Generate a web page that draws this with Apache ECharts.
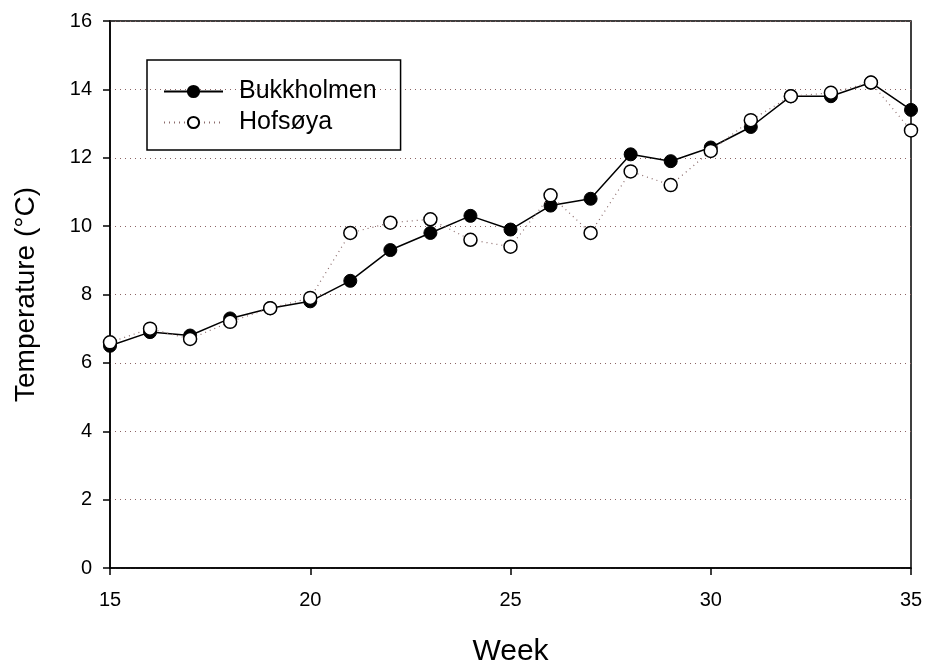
<!DOCTYPE html>
<html>
<head>
<meta charset="utf-8">
<script src="https://cdn.jsdelivr.net/npm/echarts@6/dist/echarts.min.js"></script>
<style>html,body{margin:0;padding:0;background:#fff;}#c{width:925px;height:668px;}</style>
</head>
<body>
<div id="c"></div>
<script>
var weeks = [15,16,17,18,19,20,21,22,23,24,25,26,27,28,29,30,31,32,33,34,35];
var bukkholmen = [6.5,6.9,6.8,7.3,7.6,7.8,8.4,9.3,9.8,10.3,9.9,10.6,10.8,12.1,11.9,12.3,12.9,13.8,13.8,14.2,13.4];
var hofsoya = [6.6,7.0,6.7,7.2,7.6,7.9,9.8,10.1,10.2,9.6,9.4,10.9,9.8,11.6,11.2,12.2,13.1,13.8,13.9,14.2,12.8];
var seriesNames = ['Bukkholmen','Hofsøya'];
var xTicks = [15,20,25,30,35];
var yTicks = [0,2,4,6,8,10,12,14,16];

function pairs(vals){ return weeks.map(function(w,i){ return [w, vals[i]]; }); }
var font = 'Liberation Sans, Arial, sans-serif';
var chart = echarts.init(document.getElementById('c'));
chart.setOption({
  animation: false,
  backgroundColor: '#fff',
  grid: {left:110, right:14, top:21, bottom:100, outerBoundsMode:'none', containLabel:false,
    show:true, borderColor:'#000', borderWidth:1.5, backgroundColor:'transparent'},
  legend: {
    orient:'vertical', left:147, top:60,
    data: seriesNames,
    itemWidth:59, itemHeight:14, itemGap:6,
    padding:[19,24,15,16],
    borderColor:'#000', borderWidth:1.5,
    textStyle:{fontFamily:font, fontSize:25, color:'#000', padding:[0,0,0,11]}
  },
  xAxis: {
    type:'value', min:15, max:35, interval:5,
    name:'Week', nameLocation:'middle', nameGap:69,
    nameTextStyle:{fontFamily:font, fontSize:30, color:'#000'},
    axisLine:{show:true, onZero:false, lineStyle:{color:'#000', width:1.5}},
    axisTick:{show:true, inside:false, length:7, lineStyle:{color:'#000', width:1.5}},
    axisLabel:{fontFamily:font, fontSize:20, color:'#000', margin:22,
      formatter:function(v){ return xTicks.indexOf(v)>=0 ? String(v) : ''; }},
    splitLine:{show:false}
  },
  yAxis: {
    type:'value', min:0, max:16, interval:2,
    name:'Temperature (°C)', nameLocation:'middle', nameGap:70,
    nameTextStyle:{fontFamily:font, fontSize:28, color:'#000'},
    axisLine:{show:true, onZero:false, lineStyle:{color:'#000', width:1.5}},
    axisTick:{show:true, inside:false, length:7, lineStyle:{color:'#000', width:1.5}},
    axisLabel:{fontFamily:font, fontSize:20, color:'#000', margin:18,
      formatter:function(v){ return yTicks.indexOf(v)>=0 ? String(v) : ''; }},
    splitLine:{show:true, lineStyle:{color:'#8c6464', width:1, type:[1,4]}}
  },
  series: [
    {
      name: seriesNames[1], type:'line', data: pairs(hofsoya),
      symbol:'circle', symbolSize:13,
      itemStyle:{color:'#fff', borderColor:'#000', borderWidth:1.5},
      lineStyle:{color:'#8c6c6c', width:1.2, type:[1,4]},
      z:3
    },
    {
      name: seriesNames[0], type:'line', data: pairs(bukkholmen),
      symbol:'circle', symbolSize:13,
      itemStyle:{color:'#000', borderColor:'#000', borderWidth:1},
      lineStyle:{color:'#000', width:1.5},
      z:2
    }
  ]
});
</script>
</body>
</html>
